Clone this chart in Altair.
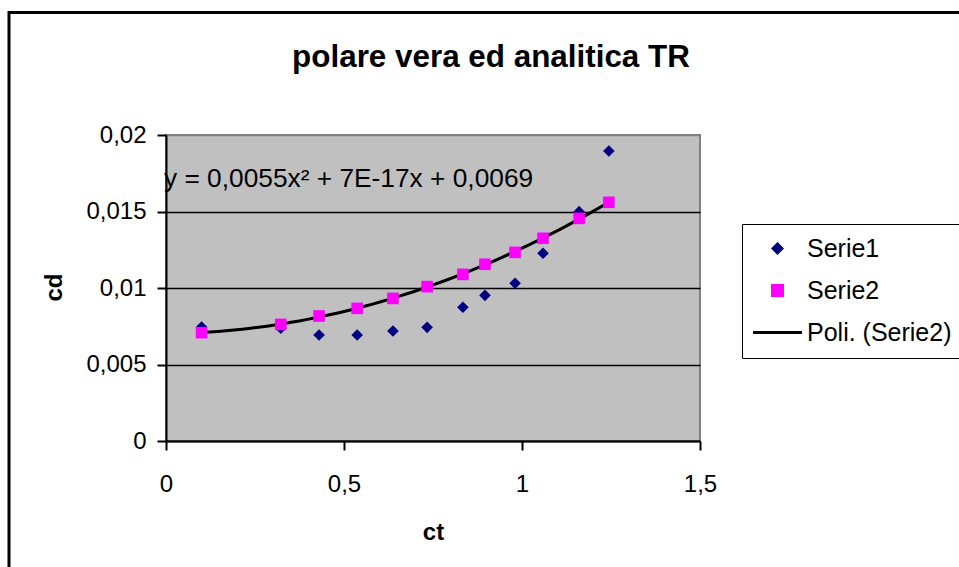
import altair as alt
import pandas as pd

# ---- data ----
ct = [0.10, 0.3225, 0.43, 0.537, 0.6375, 0.7335, 0.834, 0.896, 0.9805, 1.059, 1.1605, 1.244]
serie1 = [0.00745, 0.00737, 0.00693, 0.00693, 0.00719, 0.00743, 0.00874, 0.00952, 0.01031, 0.01227, 0.01499, 0.01895]
serie2 = [0.00708, 0.00762, 0.00817, 0.00867, 0.00932, 0.01009, 0.01089, 0.01155, 0.01233, 0.01325, 0.01455, 0.01560]
series_names = ["Serie1", "Serie2", "Poli. (Serie2)"]
series_colors = ["#000080", "#FF00FF", "#000000"]
series_shapes = ["diamond", "square", "M-3.75,-0.24H3.75V0.24H-3.75Z"]
x_ticks = [0, 0.5, 1, 1.5]
y_ticks = [0, 0.005, 0.01, 0.015, 0.02]
title_text = "polare vera ed analitica TR"
equation_text = "y = 0,0055x² + 7E-17x + 0,0069"

df = pd.DataFrame({
    "ct": ct + ct,
    "cd": serie1 + serie2,
    "serie": ["Serie1"] * len(ct) + ["Serie2"] * len(ct),
})

FONT = "Liberation Sans"
comma_expr = "replace(format(datum.value, '~g'), '.', ',')"

axis_style = dict(
    labelFont=FONT, labelFontSize=24, labelColor="black", labelFlush=False,
    titleFont=FONT, titleFontSize=24, titleFontWeight="bold", titleColor="black",
    domainColor="black", domainWidth=2, tickColor="black", tickWidth=2,
)

xenc = alt.X("ct:Q", title="ct",
             scale=alt.Scale(domain=[0, 1.5], nice=False, zero=False),
             axis=alt.Axis(values=x_ticks, labelExpr=comma_expr, grid=False,
                           tickSize=9, labelPadding=22, titleY=98,
                           titleBaseline="alphabetic", **axis_style))
yenc = alt.Y("cd:Q", title="cd",
             scale=alt.Scale(domain=[0, 0.02], nice=False),
             axis=alt.Axis(values=y_ticks, labelExpr=comma_expr, grid=True,
                           gridColor={"condition": {"test": "datum.value >= 0.02", "value": "#808080"},
                                      "value": "#000000"},
                           gridWidth=1.5, tickSize=9, labelPadding=11,
                           titleX=-105, titleY=152, titleAngle=-90,
                           titleBaseline="alphabetic", **axis_style))

color = alt.Color("serie:N", title=None,
                  scale=alt.Scale(domain=series_names, range=series_colors),
                  legend=alt.Legend(
                      orient="none", legendX=576, legendY=89,
                      padding=12, rowPadding=16, symbolSize=170,
                      symbolOffset=11, labelOffset=17, symbolStrokeWidth=0,
                      symbolOpacity=1,
                      labelFontSize=25, labelFont=FONT, labelColor="black",
                      strokeColor="black", fillColor="white"))
shape = alt.Shape("serie:N", title=None,
                  scale=alt.Scale(domain=series_names, range=series_shapes))

base = alt.Chart(df)

points = base.mark_point(filled=True, size=135, opacity=1).encode(
    x=xenc, y=yenc, color=color, shape=shape)

trend = base.transform_filter(
    alt.datum.serie == "Serie2"
).transform_regression(
    "ct", "cd", method="poly", order=2
).transform_calculate(
    serie="'Poli. (Serie2)'"
).mark_line(strokeWidth=3).encode(x="ct:Q", y="cd:Q", color=alt.Color("serie:N"))

one = pd.DataFrame({"k": [0]})
equation = alt.Chart(one).mark_text(
    text=equation_text, align="left", baseline="alphabetic",
    fontSize=26.3, font=FONT, color="black", dx=-2
).encode(x=alt.datum(0), y=alt.datum(0.0166))

title = alt.Chart(one).mark_text(
    text=title_text, align="center", baseline="alphabetic",
    fontSize=31.4, fontWeight="bold", font=FONT, color="black"
).encode(x=alt.value(325), y=alt.value(-68))

frame = alt.Chart(one).mark_rect(
    fill=None, stroke="black", strokeWidth=3
).encode(x=alt.value(-157), y=alt.value(-122.5), x2=alt.value(1300), y2=alt.value(900))

chart = alt.layer(frame, trend, points, equation, title).properties(
    width=534, height=306,
    padding={"left": 166, "top": 135, "right": 259, "bottom": 126},
    autosize=alt.AutoSizeParams(type="none"),
    background="white",
).configure_view(
    fill="#C0C0C0", stroke="#808080", strokeWidth=2
)

chart.save("out.html", embed_options={"renderer": "svg", "actions": False})
